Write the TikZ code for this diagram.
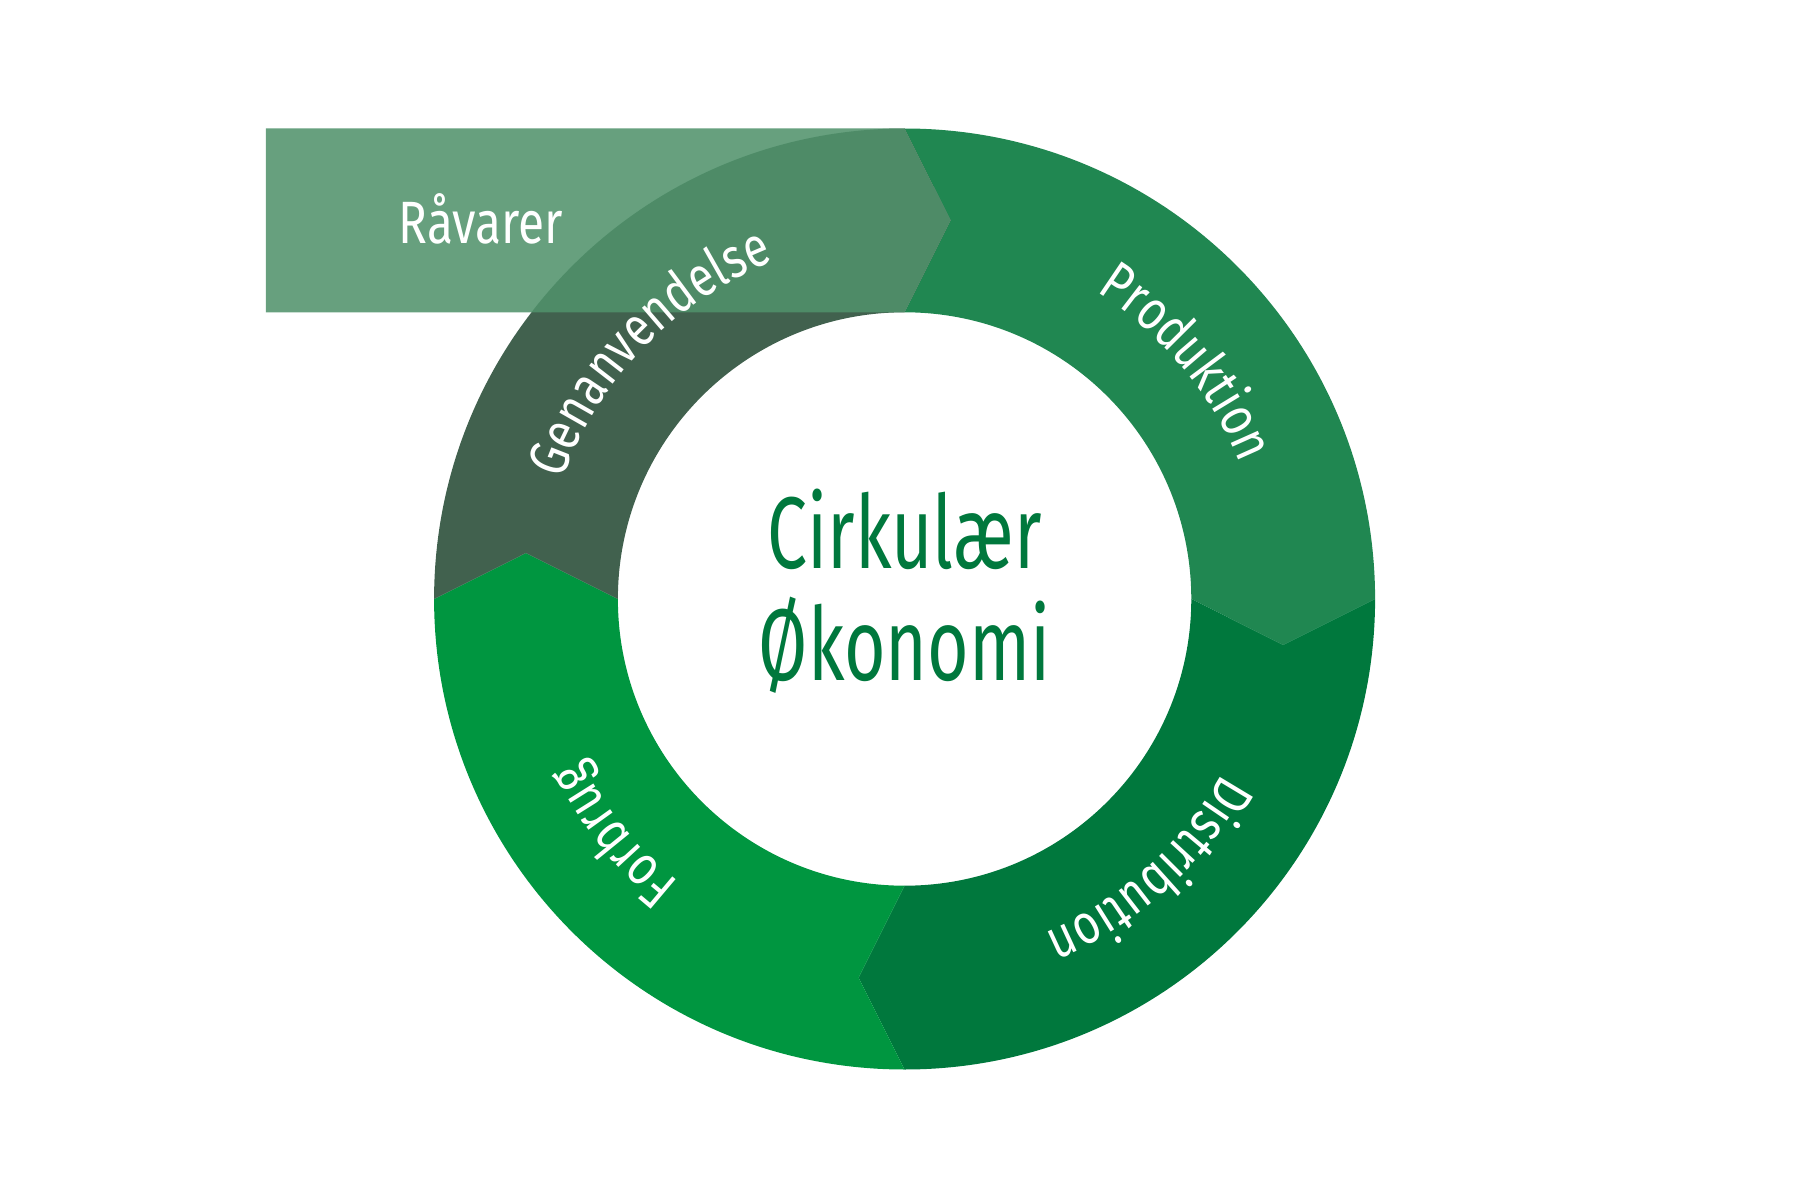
\documentclass[tikz,border=0pt]{standalone}
\usepackage{fontspec}
\setmainfont{Fira Sans}
\newfontfamily\labfont[FakeStretch=0.8]{Fira Sans}
\newfontfamily\titfont[FakeStretch=0.7]{Fira Sans}
\usetikzlibrary{decorations.text}
\definecolor{produktion}{HTML}{208751}
\definecolor{distribution}{HTML}{00783D}
\definecolor{forbrug}{HTML}{009640}
\definecolor{genanvendelse}{HTML}{41614E}
\definecolor{raavarer}{HTML}{50926B}
\tikzset{
  ringlabel/.style={decorate, decoration={text along path, text align=center,
      text color=white, text={|\labfont\fontsize{16}{18}\selectfont|#1}}},
}

\begin{document}
\begin{tikzpicture}
    \useasboundingbox (-9.046,-5.84) rectangle (8.954,5.99);
    %produktion
    \fill[produktion] (90:4.705) arc[start angle=90,end angle=0,radius=4.705] -- (3.786,-0.46) -- (0:2.867) arc[start angle=0,end angle=90,radius=2.867] -- (0.46,3.786) -- cycle;
    %distribution
    \fill[distribution] (0:4.705) arc[start angle=0,end angle=-90,radius=4.705] -- (-0.46,-3.786) -- (-90:2.867) arc[start angle=-90,end angle=0,radius=2.867] -- (3.786,-0.46) -- cycle;
    %forbrug
    \fill[forbrug] (-90:4.705) arc[start angle=-90,end angle=-180,radius=4.705] -- (-3.786,0.46) -- (180:2.867) arc[start angle=180,end angle=270,radius=2.867] -- (-0.46,-3.786) -- cycle;
    %genanvendelse
    \fill[genanvendelse] (180:4.705) arc[start angle=180,end angle=90,radius=4.705] -- (0.46,3.786) -- (90:2.867) arc[start angle=90,end angle=180,radius=2.867] -- (-3.786,0.46) -- cycle;
    %raavarer pil
    \fill[raavarer,fill opacity=0.87] (-6.386,4.705) -- (0,4.705) -- (0.46,3.786) -- (0,2.867) -- (-6.386,2.867) -- cycle;
    \node[text=white,font=\labfont\fontsize{17}{20}\selectfont] (raavarer) at (-4.236,3.80) {Råvarer};
    % tekst langs ringen
    \path[ringlabel=Produktion] (90:3.62) arc[start angle=90,end angle=-10,radius=3.62];
    \path[ringlabel=Distribution] (2:3.62) arc[start angle=2,end angle=-98,radius=3.62];
    \path[ringlabel=Forbrug] (-91:3.62) arc[start angle=-91,end angle=-191,radius=3.62];
    \path[ringlabel=Genanvendelse] (186:3.62) arc[start angle=186,end angle=86,radius=3.62];
    % midten
    \node[align=center,text=distribution,font=\titfont\fontsize{29}{32}\selectfont] (titel) at (0,0.08) {Cirkulær\\Økonomi};
\end{tikzpicture}
\end{document}
